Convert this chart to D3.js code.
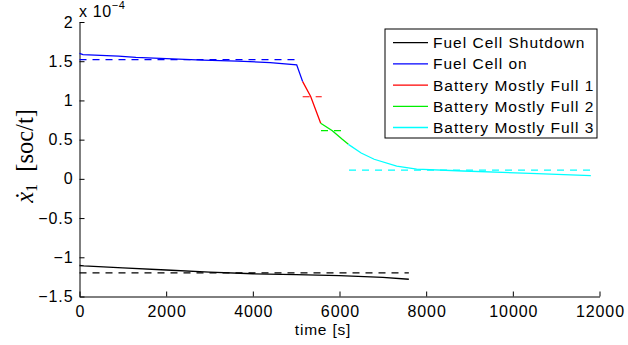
<!DOCTYPE html>
<html>
<head>
<meta charset="utf-8">
<script src="https://cdn.jsdelivr.net/npm/d3@7"></script>
<style>
  html, body { margin: 0; padding: 0; background: #fff; }
  svg { display: block; font-family: "Liberation Sans", Arial, sans-serif; }
</style>
</head>
<body>
<svg id="chart" width="628" height="345"></svg>
<script>
// Time axis in seconds, rate values in units of 1e-4 soc/t
const shutdownT = [0, 100, 1000, 2000, 3000, 4000, 5000, 6000, 7000, 7600];
const shutdownV = [-1.105, -1.11, -1.135, -1.162, -1.19, -1.21, -1.222, -1.235, -1.256, -1.28];
const shutdownRef = -1.20;

const onT = [0, 80, 900, 1300, 2850, 3650, 4400, 5012, 5150];
const onV = [1.60, 1.585, 1.566, 1.548, 1.515, 1.50, 1.483, 1.455, 1.24];
const onRef = 1.52;

const full1T = [5150, 5335, 5566];
const full1V = [1.24, 1.05, 0.71];
const full1Ref = 1.047;

const full2T = [5566, 5835, 6050, 6205];
const full2V = [0.71, 0.614, 0.51, 0.44];
const full2Ref = 0.614;

const full3T = [6205, 6500, 6800, 7320, 7780, 8850, 10400, 11800];
const full3V = [0.44, 0.33, 0.25, 0.163, 0.125, 0.10, 0.07, 0.04];
const full3Ref = 0.112;

const xTicks = [0, 2000, 4000, 6000, 8000, 10000, 12000];
const yTicks = [-1.5, -1, -0.5, 0, 0.5, 1, 1.5, 2];
const legendLabels = ["Fuel Cell Shutdown", "Fuel Cell on", "Battery Mostly Full 1", "Battery Mostly Full 2", "Battery Mostly Full 3"];
const seriesColors = ["#000000", "#0000ff", "#ff0000", "#00ee00", "#00ffff"];

const series = [
  { t: shutdownT, v: shutdownV, ref: shutdownRef, refT: [0, 7600] },
  { t: onT, v: onV, ref: onRef, refT: [0, 5080] },
  { t: full1T, v: full1V, ref: full1Ref, refT: [5150, 5590] },
  { t: full2T, v: full2V, ref: full2Ref, refT: [5573, 6051] },
  { t: full3T, v: full3V, ref: full3Ref, refT: [6220, 11850] }
];

const svg = d3.select("#chart");
const plotLeft = 79.5, plotRight = 599.5, plotTop = 22, plotBottom = 296.5;

const x = d3.scaleLinear().domain([0, 12000]).range([plotLeft, plotRight]);
const y = d3.scaleLinear().domain([-1.5, 2]).range([plotBottom, plotTop]);

// Axes: ticks point inward, MATLAB-like
const xAxis = d3.axisBottom(x).tickValues(xTicks).tickSizeInner(-5).tickSizeOuter(0).tickPadding(9).tickFormat(d3.format("d"));
const yAxis = d3.axisLeft(y).tickValues(yTicks).tickSizeInner(-5).tickSizeOuter(0).tickPadding(6).tickFormat(d => d3.format("")(d).replace("-", "\u2212"));

const gx = svg.append("g").attr("transform", `translate(0,${plotBottom})`).call(xAxis);
const gy = svg.append("g").attr("transform", `translate(${plotLeft},0)`).call(yAxis);
[gx, gy].forEach(g => {
  g.select(".domain").attr("stroke", "#000").attr("stroke-width", 1);
  g.selectAll(".tick line").attr("stroke", "#000");
  g.selectAll(".tick text").attr("fill", "#000").attr("font-size", 16)
    .attr("letter-spacing", 0.9)
    .attr("font-family", "Liberation Sans, Arial, sans-serif");
});
// keep x labels centred despite the trailing letter spacing
gx.selectAll(".tick text").attr("dx", 0.45);

// Series lines and their dashed reference levels
const line = d3.line().x(d => x(d[0])).y(d => y(d[1]));
series.forEach((s, i) => {
  svg.append("path")
    .datum(s.refT.map(t => [t, s.ref]))
    .attr("d", line)
    .attr("fill", "none")
    .attr("stroke", seriesColors[i])
    .attr("stroke-width", 1.2)
    .attr("stroke-dasharray", "7,6");
  svg.append("path")
    .datum(s.t.map((t, k) => [t, s.v[k]]))
    .attr("d", line)
    .attr("fill", "none")
    .attr("stroke", seriesColors[i])
    .attr("stroke-width", 1.3);
});

// Exponent multiplier
const mult = svg.append("text").attr("x", 79).attr("y", 17).attr("font-size", 16)
  .attr("letter-spacing", 0.6).attr("fill", "#000");
mult.append("tspan").text("x 10");
mult.append("tspan").attr("dy", -8).attr("font-size", 11).text("\u22124");

// Axis titles
svg.append("text")
  .attr("x", 323).attr("y", 335)
  .attr("text-anchor", "middle").attr("font-size", 15.5).attr("letter-spacing", 0.8).attr("fill", "#000")
  .text("time [s]");

const yl = svg.append("text")
  .attr("transform", "translate(33,156) rotate(-90)")
  .attr("text-anchor", "middle")
  .attr("font-family", "Liberation Serif, DejaVu Serif, serif")
  .attr("font-size", 24.5)
  .attr("fill", "#000");
yl.append("tspan").attr("font-style", "italic").text("\u1E8B");
yl.append("tspan").attr("dy", 4).attr("font-size", 16).text("1");
yl.append("tspan").attr("dy", -4).text("\u2002[soc/t]");

// Legend
const lg = svg.append("g");
lg.append("rect").attr("x", 385).attr("y", 29).attr("width", 212).attr("height", 109)
  .attr("fill", "#fff").attr("stroke", "#000").attr("stroke-width", 1);
legendLabels.forEach((lab, i) => {
  const cy = 42.7 + i * 21.2;
  lg.append("line").attr("x1", 393).attr("x2", 428).attr("y1", cy).attr("y2", cy)
    .attr("stroke", seriesColors[i]).attr("stroke-width", 1.3);
  lg.append("text").attr("x", 433).attr("y", cy + 5.5).attr("font-size", 15.5)
    .attr("letter-spacing", 1).attr("fill", "#000").text(lab);
});
</script>
</body>
</html>
